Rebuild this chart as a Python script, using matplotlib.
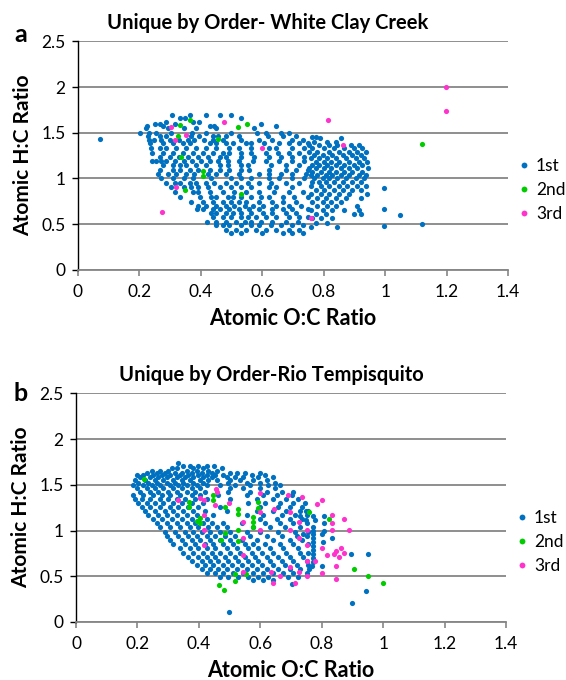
import matplotlib
matplotlib.use("Agg")
import matplotlib.pyplot as plt
import numpy as np
from matplotlib.lines import Line2D

plt.rcParams["font.family"] = ["Lato", "DejaVu Sans"]

# ---------------------------------------------------------------
# data: rows of (H:C, [O:C values])
# ---------------------------------------------------------------

wcc_first_rows = [
    (1.69, [0.307, 0.366, 0.417, 0.461, 0.498]),
    (1.657, [0.331, 0.347, 0.531]),
    (1.62, [0.285, 0.374, 0.394]),
    (1.595, [0.25, 0.266, 0.315, 0.596]),
    (1.573, [0.225, 0.277, 0.428, 0.444, 0.644]),
    (1.547, [0.22, 0.293, 0.344, 0.383, 0.45, 0.574]),
    (1.50, [0.201, 0.231, 0.255, 0.304, 0.372, 0.417, 0.498, 0.583, 0.612, 0.66, 0.688]),
    (1.464, [0.228, 0.266, 0.285, 0.369, 0.394, 0.439, 0.455, 0.482, 0.525, 0.617, 0.666, 0.711]),
    (1.456, [0.763, 0.776]),
    (1.438, [0.787, 0.855]),
    (1.42, [0.231, 0.246, 0.271, 0.298, 0.329, 0.358, 0.379, 0.409, 0.439, 0.471, 0.531, 0.59, 0.633, 0.698, 0.731]),
    (1.40, [0.769, 0.812, 0.839]),
    (1.383, [0.234, 0.277, 0.309, 0.342, 0.363, 0.428, 0.45, 0.482, 0.504, 0.547, 0.563, 0.606, 0.655, 0.688, 0.72, 0.747]),
    (1.365, [0.752, 0.785, 0.817, 0.844, 0.888, 0.915]),
    (1.328, [0.239, 0.266, 0.288, 0.32, 0.352, 0.385, 0.417, 0.45, 0.493, 0.525, 0.563, 0.623, 0.644, 0.698, 0.736,
             0.763, 0.801, 0.834, 0.866, 0.899, 0.925]),
    (1.292, [0.752, 0.779, 0.817, 0.85, 0.882, 0.909, 0.936]),
    (1.281, [0.242, 0.277, 0.309, 0.342, 0.374, 0.406, 0.439, 0.471, 0.493, 0.531, 0.563, 0.612, 0.65, 0.688, 0.72]),
    (1.255, [0.769, 0.796, 0.828, 0.861, 0.893, 0.92]),
    (1.237, [0.266, 0.298, 0.329, 0.358, 0.39, 0.423, 0.461, 0.482, 0.531, 0.574, 0.623, 0.66, 0.698, 0.736]),
    (1.219, [0.758, 0.785, 0.812, 0.839, 0.871, 0.904, 0.931]),
    (1.193, [0.24, 0.255, 0.271, 0.288, 0.315, 0.344, 0.372, 0.401, 0.428, 0.455, 0.488, 0.525, 0.569, 0.612, 0.655,
             0.698, 0.736]),
    (1.182, [0.774, 0.801, 0.823, 0.85, 0.882, 0.915, 0.942]),
    (1.146, [0.277, 0.309, 0.331, 0.352, 0.385, 0.417, 0.461, 0.488, 0.531, 0.552, 0.628, 0.677, 0.72, 0.763, 0.785,
             0.812, 0.839, 0.866, 0.899, 0.925]),
    (1.109, [0.752, 0.774, 0.801, 0.823, 0.855, 0.882, 0.909, 0.945]),
    (1.091, [0.266, 0.309, 0.331, 0.363, 0.39, 0.428, 0.461, 0.493, 0.531, 0.558, 0.623, 0.677, 0.709, 0.747]),
    (1.073, [0.763, 0.79, 0.817, 0.839, 0.866, 0.893, 0.925]),
    (1.047, [0.262, 0.293, 0.32, 0.352, 0.379, 0.423, 0.45, 0.482, 0.525, 0.59, 0.623, 0.66, 0.698, 0.742]),
    (1.036, [0.758, 0.779, 0.806, 0.828, 0.855, 0.882, 0.915, 0.936]),
    (1.0, [0.271, 0.309, 0.344, 0.374, 0.434, 0.498, 0.531, 0.563, 0.623, 0.655, 0.698, 0.736, 0.769, 0.796, 0.817,
           0.844, 0.871, 0.904, 0.931]),
    (0.964, [0.763, 0.785, 0.806, 0.834, 0.861, 0.893, 0.92]),
    (0.953, [0.285, 0.315, 0.333, 0.363, 0.385, 0.417, 0.444, 0.482, 0.515, 0.552, 0.59, 0.628, 0.677, 0.72]),
    (0.916, [0.758, 0.79, 0.817, 0.85, 0.877, 0.909, 0.936]),
    (0.901, [0.302, 0.344, 0.369, 0.39, 0.423, 0.461, 0.498, 0.531, 0.563, 0.623, 0.644, 0.698]),
    (0.872, [0.774, 0.801, 0.834, 0.861, 0.893, 0.92]),
    (0.854, [0.315, 0.374, 0.39, 0.428, 0.471, 0.509, 0.547, 0.59, 0.639, 0.688, 0.731]),
    (0.828, [0.758, 0.79, 0.817, 0.85, 0.882, 0.939]),
    (0.799, [0.331, 0.396, 0.434, 0.45, 0.488, 0.504, 0.531, 0.563, 0.596, 0.623, 0.666, 0.704, 0.747]),
    (0.781, [0.779, 0.806, 0.839, 0.871, 0.92]),
    (0.745, [0.369, 0.406, 0.439, 0.471, 0.498, 0.525, 0.547, 0.59, 0.633, 0.666, 0.709, 0.763, 0.796, 0.823, 0.855]),
    (0.697, [0.39, 0.417, 0.45, 0.482, 0.509, 0.542, 0.569, 0.601, 0.644, 0.688, 0.725, 0.779, 0.812, 0.841, 0.909]),
    (0.66, [0.387, 0.406, 0.439, 0.461, 0.493, 0.525, 0.558, 0.59, 0.633, 0.666, 0.698, 0.747]),
    (0.653, [0.758, 0.796, 0.828, 0.866, 0.915]),
    (0.617, [0.434, 0.45, 0.482, 0.504, 0.531, 0.563, 0.601, 0.633, 0.677, 0.709]),
    (0.61, [0.774, 0.806, 0.899, 0.92]),
    (0.573, [0.439, 0.471, 0.498, 0.531, 0.552, 0.58, 0.612, 0.644, 0.688, 0.72, 0.747]),
    (0.562, [0.763, 0.79, 0.828]),
    (0.526, [0.421, 0.45, 0.482, 0.515, 0.542, 0.563, 0.596, 0.633, 0.677, 0.715]),
    (0.515, [0.776, 0.812]),
    (0.489, [0.45, 0.471, 0.493, 0.531, 0.563, 0.59, 0.628, 0.66, 0.698, 0.731]),
    (0.47, [0.758, 0.844]),
    (0.434, [0.482, 0.515, 0.547, 0.58, 0.612, 0.644, 0.688, 0.72]),
    (0.398, [0.498, 0.531, 0.599, 0.666, 0.698, 0.731]),
    (1.43, [0.071]),
    (0.89, [0.996]),
    (0.665, [0.996]),
    (0.60, [1.048]),
    (0.48, [0.996]),
    (0.50, [1.12]),
]

wcc_second = [(0.333, 1.585), (0.363, 1.64), (0.324, 1.464), (0.334, 1.23), (0.407, 1.081),
              (0.407, 1.026), (0.348, 0.873), (0.457, 1.428), (0.521, 1.566), (0.549, 1.60),
              (0.529, 0.826), (1.12, 1.377)]

wcc_third = [(0.304, 1.566), (0.352, 1.475), (0.316, 1.42), (0.318, 0.909), (0.272, 0.635),
             (0.475, 1.618), (0.599, 1.333), (0.815, 1.636), (0.862, 1.366), (0.759, 0.563),
             (1.198, 2.0), (1.198, 1.735)]

rio_first_rows = [
    (1.734, [0.333]),
    (1.705, [0.349, 0.371, 0.398, 0.425, 0.449]),
    (1.68, [0.311, 0.328, 0.382, 0.414, 0.474]),
    (1.654, [0.246, 0.273, 0.3, 0.36, 0.393, 0.431, 0.458]),
    (1.632, [0.23, 0.262, 0.29, 0.322, 0.344, 0.376, 0.409, 0.441, 0.501, 0.523, 0.55, 0.599]),
    (1.607, [0.197, 0.219, 0.252, 0.279, 0.306, 0.338, 0.366, 0.398, 0.425, 0.452, 0.479, 0.572, 0.615]),
    (1.581, [0.208, 0.241, 0.268, 0.295, 0.328, 0.355, 0.382, 0.414, 0.441, 0.49, 0.517, 0.544, 0.593, 0.642]),
    (1.552, [0.192, 0.225, 0.257, 0.284, 0.317, 0.344, 0.371, 0.403, 0.431, 0.458, 0.501, 0.534, 0.577, 0.62]),
    (1.523, [0.203, 0.235, 0.262, 0.295, 0.322, 0.349, 0.382, 0.414, 0.496, 0.555, 0.599, 0.648]),
    (1.497, [0.187, 0.217, 0.246, 0.273, 0.306, 0.333, 0.36, 0.393, 0.425, 0.469, 0.517, 0.566, 0.626, 0.664]),
    (1.461, [0.197, 0.23, 0.257, 0.284, 0.317, 0.344, 0.376, 0.403, 0.501, 0.544, 0.599, 0.648]),
    (1.424, [0.208, 0.241, 0.268, 0.3, 0.328, 0.36, 0.387, 0.42, 0.496, 0.566, 0.62, 0.669, 0.707]),
    (1.388, [0.187, 0.219, 0.252, 0.279, 0.306, 0.338, 0.376, 0.403, 0.463, 0.555, 0.61, 0.653, 0.702]),
    (1.341, [0.192, 0.214, 0.241, 0.273, 0.3, 0.328, 0.355, 0.387, 0.425, 0.501, 0.588, 0.642, 0.685, 0.723]),
    (1.297, [0.203, 0.23, 0.257, 0.284, 0.317, 0.344, 0.376, 0.414, 0.561, 0.615, 0.664, 0.707, 0.745]),
    (1.26, [0.214, 0.241, 0.273, 0.306, 0.333, 0.366, 0.398, 0.469, 0.599, 0.658, 0.696, 0.734]),
    (1.217, [0.225, 0.257, 0.29, 0.317, 0.349, 0.382, 0.42, 0.49, 0.588, 0.642, 0.685, 0.729, 0.756]),
    (1.213, [0.747]),
    (1.169, [0.235, 0.268, 0.295, 0.328, 0.36, 0.393, 0.447, 0.555, 0.61, 0.669, 0.713, 0.751]),
    (1.158, [0.729, 0.77, 0.807]),
    (1.122, [0.252, 0.279, 0.311, 0.344, 0.376, 0.425, 0.599, 0.653, 0.696, 0.734]),
    (1.115, [0.748, 0.777]),
    (1.078, [0.262, 0.295, 0.328, 0.36, 0.387, 0.414, 0.441, 0.479, 0.539, 0.615, 0.664, 0.707, 0.751, 0.807]),
    (1.035, [0.273, 0.306, 0.338, 0.371, 0.398, 0.431, 0.458, 0.49, 0.577, 0.631, 0.68, 0.729, 0.772]),
    (0.998, [0.77, 0.807]),
    (0.987, [0.29, 0.322, 0.355, 0.382, 0.409, 0.436, 0.469, 0.501, 0.555, 0.599, 0.658, 0.713, 0.756]),
    (0.958, [0.74, 0.772, 0.799]),
    (0.94, [0.295, 0.333, 0.366, 0.393, 0.425, 0.452, 0.485, 0.517, 0.566, 0.62, 0.669, 0.718, 0.751]),
    (0.922, [0.772, 0.832]),
    (0.896, [0.306, 0.344, 0.376, 0.403, 0.436, 0.469, 0.501, 0.539, 0.588, 0.642, 0.696, 0.734]),
    (0.878, [0.772, 0.805]),
    (0.852, [0.317, 0.355, 0.387, 0.42, 0.447, 0.479, 0.512, 0.55, 0.577, 0.615, 0.664, 0.707, 0.756]),
    (0.831, [0.772]),
    (0.805, [0.338, 0.371, 0.398, 0.425, 0.452, 0.49, 0.523, 0.561, 0.593, 0.631, 0.675, 0.723]),
    (0.787, [0.772]),
    (0.758, [0.349, 0.382, 0.414, 0.441, 0.469, 0.501, 0.534, 0.572, 0.604, 0.642, 0.685, 0.729, 0.756]),
    (0.743, [0.772, 0.894, 0.951]),
    (0.714, [0.366, 0.398, 0.425, 0.452, 0.485, 0.517, 0.55, 0.582, 0.62, 0.658, 0.696, 0.74]),
    (0.696, [0.772]),
    (0.67, [0.376, 0.409, 0.436, 0.463, 0.496, 0.528, 0.561, 0.593, 0.631, 0.669, 0.707, 0.751]),
    (0.659, [0.77]),
    (0.623, [0.393, 0.42, 0.447, 0.479, 0.507, 0.539, 0.572, 0.604, 0.642, 0.68, 0.718, 0.756]),
    (0.612, [0.767, 0.799]),
    (0.576, [0.409, 0.436, 0.463, 0.49, 0.523, 0.555, 0.588, 0.62, 0.658, 0.696, 0.729, 0.759]),
    (0.532, [0.425, 0.452, 0.479, 0.512, 0.544, 0.577, 0.61, 0.642, 0.675, 0.707, 0.751]),
    (0.495, [0.469, 0.496, 0.528, 0.561, 0.593, 0.626, 0.691, 0.723]),
    (0.459, [0.577, 0.61, 0.642]),
    (0.412, [0.702]),
    (0.339, [0.943]),
    (0.204, [0.899]),
    (0.113, [0.499]),
]

rio_second = [(0.221, 1.559), (0.369, 1.315), (0.369, 1.26), (0.445, 1.388), (0.445, 1.333),
              (0.485, 1.26), (0.403, 1.133), (0.395, 1.107), (0.403, 1.078), (0.528, 1.235),
              (0.528, 1.18), (0.593, 1.315), (0.593, 1.25), (0.575, 1.151), (0.575, 1.097),
              (0.575, 1.035), (0.485, 0.976), (0.528, 1.005), (0.471, 0.896), (0.528, 0.889),
              (0.517, 0.525), (0.517, 0.448), (0.553, 0.525), (0.466, 0.404), (0.482, 0.35),
              (0.759, 1.206), (0.824, 1.129), (0.905, 0.576), (0.949, 0.503), (0.999, 0.423)]

rio_third = [(0.333, 1.333), (0.403, 1.352), (0.416, 1.333), (0.456, 1.45), (0.458, 1.424),
             (0.452, 1.279), (0.499, 1.304), (0.416, 1.169), (0.416, 1.005), (0.416, 0.838),
             (0.544, 1.097), (0.544, 0.914), (0.544, 0.732), (0.544, 0.55), (0.599, 1.406),
             (0.599, 1.206), (0.599, 1.005), (0.644, 1.231), (0.691, 1.388), (0.698, 1.206),
             (0.698, 1.005), (0.727, 1.097), (0.727, 0.914), (0.736, 1.37), (0.751, 1.005),
             (0.751, 0.842), (0.751, 0.67), (0.698, 0.605), (0.633, 0.55), (0.664, 0.503),
             (0.642, 0.43), (0.713, 0.43), (0.727, 0.55), (0.751, 0.503),
             (0.785, 1.29), (0.799, 1.333), (0.832, 1.169), (0.873, 1.126), (0.832, 1.086),
             (0.888, 1.002), (0.832, 1.002), (0.799, 0.805), (0.846, 0.776), (0.864, 0.805),
             (0.818, 0.729), (0.841, 0.74), (0.857, 0.714), (0.873, 0.75), (0.777, 0.67),
             (0.846, 0.616), (0.799, 0.539), (0.846, 0.466)]

series_names = ["1st", "2nd", "3rd"]
series_colors = ["#0070C0", "#00CC00", "#FF33CC"]

x_ticks = [0, 0.2, 0.4, 0.6, 0.8, 1.0, 1.2, 1.4]
x_tick_labels = ["0", "0.2", "0.4", "0.6", "0.8", "1", "1.2", "1.4"]
y_ticks = [0, 0.5, 1.0, 1.5, 2.0, 2.5]
y_tick_labels = ["0", "0.5", "1", "1.5", "2", "2.5"]


def flatten(rows):
    xs, ys = [], []
    for hc, ocs in rows:
        for oc in ocs:
            xs.append(oc)
            ys.append(hc)
    return np.array(xs), np.array(ys)


def split(points):
    arr = np.array(points)
    return arr[:, 0], arr[:, 1]


GRID = "#868686"


def style_axes(ax):
    ax.set_xlim(0, 1.4)
    ax.set_ylim(0, 2.5)
    ax.set_xticks(x_ticks)
    ax.set_xticklabels(x_tick_labels, fontsize=12.5)
    ax.set_yticks(y_ticks)
    ax.set_yticklabels(y_tick_labels, fontsize=12.5)
    ax.spines["top"].set_visible(False)
    ax.spines["right"].set_visible(False)
    ax.spines["left"].set_color("black")
    ax.spines["bottom"].set_color(GRID)
    ax.spines["left"].set_linewidth(1.0)
    ax.spines["bottom"].set_linewidth(1.3)
    ax.tick_params(axis="x", direction="out", length=4, color=GRID, width=1.2, pad=6)
    ax.tick_params(axis="y", direction="out", length=4, color="black", width=1.0, pad=5)
    ax.grid(axis="y", color=GRID, linewidth=1.3)
    ax.set_axisbelow(True)
    ax.set_xlabel("Atomic O:C Ratio", fontsize=15.5, fontweight="bold", labelpad=6)
    ax.set_ylabel("Atomic H:C Ratio", fontsize=15, fontweight="bold", labelpad=6)


fig = plt.figure(figsize=(5.66, 6.80), dpi=100)
ax_a = fig.add_axes([0.1378, 0.6034, 0.760, 0.3356])
ax_b = fig.add_axes([0.1343, 0.0853, 0.760, 0.3363])

panels = [
    (ax_a, wcc_first_rows, wcc_second, wcc_third, "Unique by Order- White Clay Creek", "a", 0.4726, 0.966, 0.949),
    (ax_b, rio_first_rows, rio_second, rio_third, "Unique by Order-Rio Tempisquito", "b", 0.48, 0.4485, 0.421),
]

for ax, first_rows, second, third, title, letter, title_x, title_y, letter_y in panels:
    x1, y1 = flatten(first_rows)
    x2, y2 = split(second)
    x3, y3 = split(third)
    ax.scatter(x1, y1, s=14, color=series_colors[0], linewidths=0, zorder=3)
    ax.scatter(x2, y2, s=14, color=series_colors[1], linewidths=0, zorder=4)
    ax.scatter(x3, y3, s=14, color=series_colors[2], linewidths=0, zorder=4)
    style_axes(ax)

    fig.text(title_x, title_y, title, fontsize=14.5, fontweight="bold", ha="center", va="center")
    fig.text(0.037, letter_y, letter, fontsize=18, fontweight="bold", ha="center", va="center")

    handles = [Line2D([], [], linestyle="none", marker="o", markersize=4.2,
                      markerfacecolor=c, markeredgewidth=0) for c in series_colors]
    ax.legend(handles, series_names, loc="center left", bbox_to_anchor=(1.016, 0.35),
              frameon=False, fontsize=12.5, handletextpad=0.2, handlelength=1.0,
              labelspacing=0.45, borderaxespad=0, borderpad=0)

fig.savefig("out.png", dpi=100)
